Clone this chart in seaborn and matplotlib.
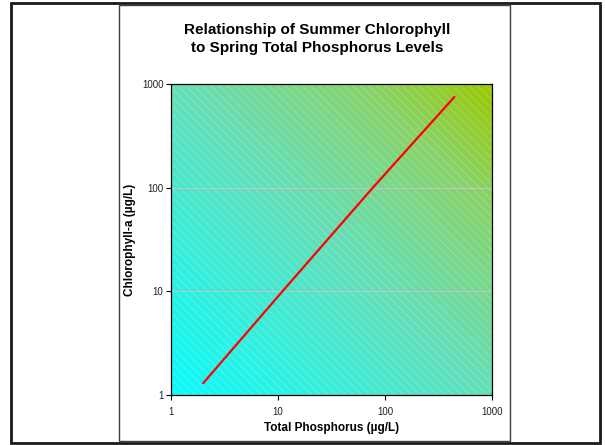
import numpy as np
import pandas as pd
import matplotlib
matplotlib.use("Agg")
import matplotlib.pyplot as plt
import seaborn as sns
from matplotlib.colors import LinearSegmentedColormap
from matplotlib.patches import Rectangle
from matplotlib.ticker import FixedLocator, FixedFormatter, NullLocator

# values (fitted line)
tp_values = [2, 11, 77, 445]          # Total Phosphorus (ug/L)
chl_values = [1.3, 10, 100, 750]      # Chlorophyll-a (ug/L)
tick_values = [1, 10, 100, 1000]
tick_labels = ["1", "10", "100", "1000"]

df = pd.DataFrame({"tp": tp_values, "chl": chl_values})

sns.set_style("white")
plt.rcParams["font.family"] = ["Liberation Sans", "DejaVu Sans"]
plt.rcParams["text.color"] = "black"
plt.rcParams["axes.labelcolor"] = "black"
plt.rcParams["hatch.linewidth"] = 0.7

W, H = 605, 445
fig = plt.figure(figsize=(W / 100, H / 100), dpi=100)
fig.patch.set_facecolor("white")

# plot area in pixels
x0, x1, y0, y1 = 171, 492, 84, 395
pos = [x0 / W, 1 - y1 / H, (x1 - x0) / W, (y1 - y0) / H]

# gradient background with diagonal texture
bg = fig.add_axes(pos, zorder=0)
u, v = np.meshgrid(np.linspace(0, 1, 300), np.linspace(0, 1, 300))
t = (u + v) / 2
cmap = LinearSegmentedColormap.from_list(
    "grad", [(0.0, "#0AFCFC"), (0.5, "#64DEB8"), (0.8, "#88D36A"), (1.0, "#9CC800")])
bg.imshow(cmap(t), extent=[0, 1, 0, 1], origin="lower", aspect="auto")
bg.add_patch(Rectangle((0, 0), 1, 1, transform=bg.transAxes, facecolor="none",
                       edgecolor=(1, 1, 1, 0.2), hatch="\\\\\\\\", lw=0))
bg.set_xlim(0, 1)
bg.set_ylim(0, 1)
bg.axis("off")

ax = fig.add_axes(pos, zorder=1)
ax.patch.set_alpha(0)
sns.lineplot(data=df, x="tp", y="chl", color="red", linewidth=1.6, ax=ax)
ax.set_xscale("log")
ax.set_yscale("log")
ax.set_xlim(1, 1000)
ax.set_ylim(1, 1000)

for axis in (ax.xaxis, ax.yaxis):
    axis.set_major_locator(FixedLocator(tick_values))
    axis.set_major_formatter(FixedFormatter(tick_labels))
    axis.set_minor_locator(NullLocator())
ax.tick_params(axis="both", which="major", direction="out", length=3.5, width=0.8,
               color="black", labelsize=7, labelcolor="#222222", pad=2)
ax.tick_params(axis="x", pad=5)
ax.tick_params(axis="y", left=True)
ax.tick_params(axis="x", bottom=True)

ax.yaxis.grid(True, color="#C4C4C4", linewidth=0.8)
ax.xaxis.grid(False)
for s in ax.spines.values():
    s.set_visible(True)
    s.set_color("black")
    s.set_linewidth(0.9)

ax.set_xlabel("Total Phosphorus (\u00b5g/L)", fontsize=8.5, fontweight="bold", labelpad=4)
ax.set_ylabel("Chlorophyll-a (\u00b5g/L)", fontsize=8.5, fontweight="bold", labelpad=4)

fig.text(317 / W, 1 - 39 / H, "Relationship of Summer Chlorophyll\nto Spring Total Phosphorus Levels",
         ha="center", va="center", fontsize=11, fontweight="bold", linespacing=1.4)

# chart frames
fig.add_artist(Rectangle((11.5 / W, 1 - 443 / H), (600 - 11.5) / W, (443 - 3) / H,
                         transform=fig.transFigure, facecolor="none",
                         edgecolor="#1a1a1a", lw=2.0))
fig.add_artist(Rectangle((118.5 / W, 1 - 441 / H), (510 - 118.5) / W, (441 - 5) / H,
                         transform=fig.transFigure, facecolor="none",
                         edgecolor="#404040", lw=1.0))

fig.savefig("out.png", dpi=100, facecolor="white")
